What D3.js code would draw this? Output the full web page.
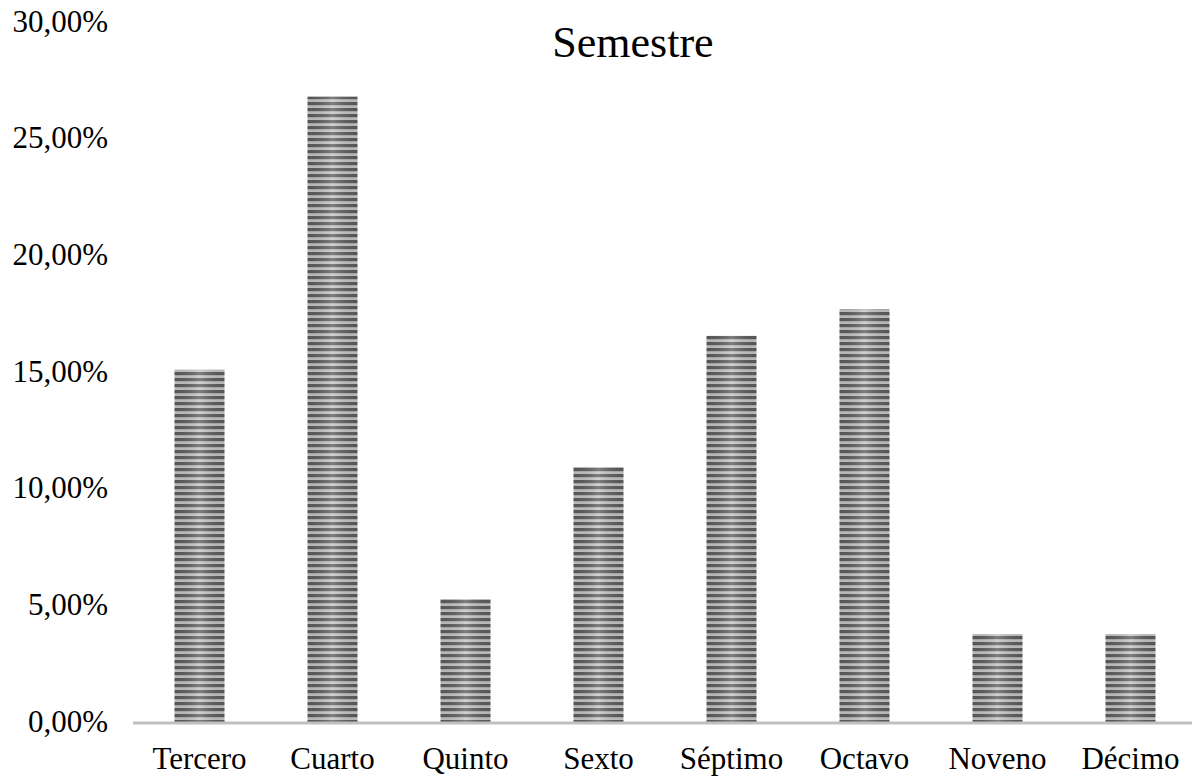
<!DOCTYPE html>
<html>
<head>
<meta charset="utf-8">
<script src="https://cdn.jsdelivr.net/npm/d3@7"></script>
<style>
  html, body { margin: 0; padding: 0; background: #fff; }
  svg { display: block; }
</style>
</head>
<body>
<svg id="chart" width="1192" height="780"></svg>
<script>
const categories = ["Tercero", "Cuarto", "Quinto", "Sexto", "Séptimo", "Octavo", "Noveno", "Décimo"];
const values = [15.1, 26.8, 5.27, 10.93, 16.55, 17.7, 3.77, 3.77];
const yTicks = [0, 5, 10, 15, 20, 25, 30];
const title = "Semestre";

const svg = d3.select("#chart");
const W = 1192, H = 780;
const plot = { left: 133, right: 1197, top: 22, bottom: 722 };

const x = d3.scaleBand().domain(categories).range([plot.left, plot.right]).paddingInner(0.624).paddingOuter(0.312);
const y = d3.scaleLinear().domain([0, 30]).range([plot.bottom, plot.top]);

const defs = svg.append("defs");
const pat = defs.append("pattern")
  .attr("id", "stripes").attr("patternUnits", "userSpaceOnUse")
  .attr("width", 8).attr("height", 6);
pat.append("rect").attr("width", 8).attr("height", 6).attr("fill", "#c4c4c4");
pat.append("rect").attr("y", 0).attr("width", 8).attr("height", 3.2).attr("fill", "#5c5c5c");

const grad = defs.append("linearGradient").attr("id", "shine").attr("x1", "0").attr("x2", "1").attr("y1", "0").attr("y2", "0");
grad.append("stop").attr("offset", "0%").attr("stop-color", "#000").attr("stop-opacity", 0.06);
grad.append("stop").attr("offset", "50%").attr("stop-color", "#fff").attr("stop-opacity", 0.22);
grad.append("stop").attr("offset", "100%").attr("stop-color", "#000").attr("stop-opacity", 0.06);

const font = "'Liberation Serif', 'Times New Roman', serif";

// Bars
const bars = svg.append("g");
categories.forEach((c, i) => {
  const bx = x(c), bw = x.bandwidth(), by = y(values[i]), bh = y(0) - y(values[i]);
  bars.append("rect").attr("x", bx).attr("y", by).attr("width", bw).attr("height", bh).attr("fill", "url(#stripes)");
  bars.append("rect").attr("x", bx).attr("y", by).attr("width", bw).attr("height", bh).attr("fill", "url(#shine)");
});

// Baseline
svg.append("line")
  .attr("x1", plot.left).attr("x2", W)
  .attr("y1", y(0) + 1).attr("y2", y(0) + 1)
  .attr("stroke", "#bfbfbf").attr("stroke-width", 3);

// Y axis labels
const yAxis = d3.axisLeft(y).tickValues(yTicks)
  .tickFormat(d => d.toFixed(2).replace(".", ",") + "%")
  .tickSize(0).tickPadding(0);
const yg = svg.append("g").attr("transform", `translate(108,0)`).call(yAxis);
yg.select(".domain").remove();
yg.selectAll("text").attr("font-family", font).attr("font-size", 31).attr("fill", "#000").attr("dy", "0.3em");

// X axis labels
const xAxis = d3.axisBottom(x).tickSize(0).tickPadding(0);
const xg = svg.append("g").attr("transform", `translate(0,747)`).call(xAxis);
xg.select(".domain").remove();
xg.selectAll("text").attr("font-family", font).attr("font-size", 31).attr("fill", "#000").attr("dy", "0.72em");

// Title
svg.append("text").attr("x", 633).attr("y", 57).attr("text-anchor", "middle")
  .attr("font-family", font).attr("font-size", 44).attr("fill", "#000").text(title);
</script>
</body>
</html>
